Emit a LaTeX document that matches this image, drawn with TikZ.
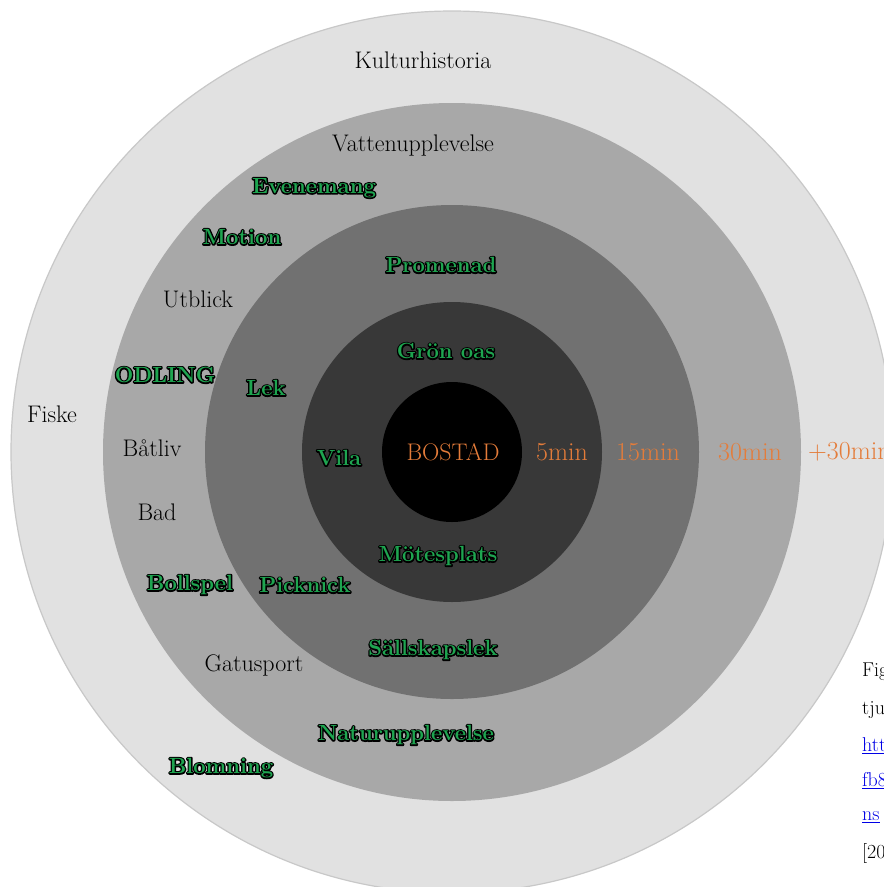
\documentclass[tikz,border=0pt]{standalone}
\usepackage{tikz}
\pgfdeclarelayer{bg}
\pgfsetlayers{bg,main}
\definecolor{ring0}{RGB}{0,0,0}
\definecolor{ring1}{RGB}{56,56,56}
\definecolor{ring2}{RGB}{113,113,113}
\definecolor{ring3}{RGB}{168,168,168}
\definecolor{ring4}{RGB}{225,225,225}
\definecolor{ringedge}{RGB}{200,200,200}
\definecolor{aktgron}{RGB}{30,165,80}
\definecolor{tidorange}{RGB}{228,124,58}
\definecolor{lankbla}{RGB}{0,0,230}
% green text on a black stroked copy of itself
\newcommand{\gron}[1]{\leavevmode\rlap{\special{pdf:code q 2 Tr 2.8 w 1 j}\textcolor{black}{#1}\special{pdf:code Q}}\textcolor{aktgron}{#1}}
\newcommand{\lank}[1]{\textcolor{lankbla}{\underline{#1}}}
\tikzset{
        svart/.style={font=\fontsize{24}{28}\selectfont, text=black, inner sep=0pt},
        aktiv/.style={font=\fontsize{22}{26}\selectfont\bfseries, inner sep=0pt},
        tid/.style={font=\fontsize{26}{30}\selectfont, text=tidorange, inner sep=0pt},
        fot/.style={font=\fontsize{20}{24}\selectfont, anchor=west, inner sep=0pt},
}

\begin{document}
\begin{tikzpicture}[x=1pt, y=-1pt]
        \useasboundingbox (0,0) rectangle (884,887);
        \clip (0,0) rectangle (884,887);
        \node (kultur) [svart] at (423, 60) {Kulturhistoria};
        \node (vatten) [svart] at (413, 146) {Vattenupplevelse};
        \node (utblick) [svart] at (198, 299) {Utblick};
        \node (fiske) [svart] at (52, 414) {Fiske};
        \node (batliv) [svart] at (152, 448) {Båtliv};
        \node (bad) [svart] at (157, 512) {Bad};
        \node (gatu) [svart] at (254, 665) {Gatusport};
        \node (evene) [aktiv] at (314, 188) {\gron{Evenemang}};
        \node (motion) [aktiv] at (242, 237) {\gron{Motion}};
        \node (prom) [aktiv] at (441, 265) {\gron{Promenad}};
        \node (oas) [aktiv] at (446, 351) {\gron{Grön oas}};
        \node (odling) [aktiv] at (165, 375) {\gron{ODLING}};
        \node (lek) [aktiv] at (266, 388) {\gron{Lek}};
        \node (vila) [aktiv] at (339, 458) {\gron{Vila}};
        \node (mote) [aktiv] at (438, 556) {\gron{Mötesplats}};
        \node (boll) [aktiv] at (190, 585) {\gron{Bollspel}};
        \node (pick) [aktiv] at (305, 585) {\gron{Picknick}};
        \node (sallskap) [aktiv] at (433, 650) {\gron{Sällskapslek}};
        \node (natur) [aktiv] at (406, 735) {\gron{Naturupplevelse}};
        \node (blom) [aktiv] at (221, 768) {\gron{Blomning}};
        \node (bostad) [tid, font=\fontsize{24}{28}\selectfont] at (453, 452) {BOSTAD};
        \node (t5) [tid] at (562, 452) {5min};
        \node (t15) [tid] at (648, 452) {15min};
        \node (t30) [tid] at (750, 452) {30min};
        \node (t30plus) [tid, anchor=west] at (808, 452) {+30min};
        \node (f1) [fot] at (862, 672) {Fig};
        \node (f2) [fot] at (862, 710) {tju};
        \node (f3) [fot] at (862, 746) {\lank{htt}};
        \node (f4) [fot] at (862, 781) {\lank{fb8}};
        \node (f5) [fot] at (862, 817) {\lank{ns}};
        \node (f6) [fot] at (862, 853) {[20};
        \begin{pgfonlayer}{bg}
                \fill [white] (0,0) rectangle (884,887);
                \filldraw [fill=ring4, draw=ringedge, line width=1.2pt] (452,452) circle (441);
                \fill [ring3] (452,452) circle (349);
                \fill [ring2] (452,452) circle (247);
                \fill [ring1] (452,452) circle (150);
                \fill [ring0] (452,452) circle (70);
        \end{pgfonlayer}
\end{tikzpicture}
\end{document}
